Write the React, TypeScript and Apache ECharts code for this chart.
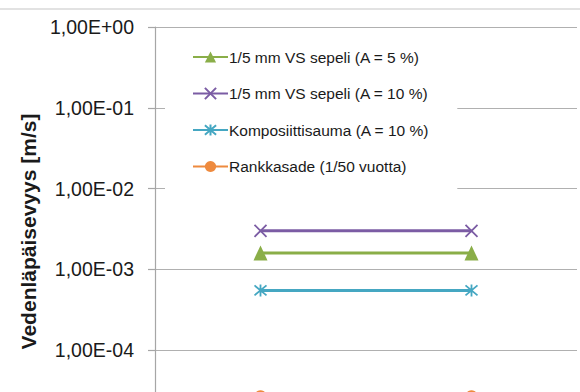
import React, { useEffect, useRef } from "react";
import * as echarts from "echarts";

const categories = ["1", "2"];
const seriesNames = [
  "1/5 mm VS sepeli (A = 5 %)",
  "1/5 mm VS sepeli (A = 10 %)",
  "Komposiittisauma (A = 10 %)",
  "Rankkasade (1/50 vuotta)",
];
const greenValues = [1.6e-3, 1.6e-3];
const purpleValues = [3.0e-3, 3.0e-3];
const cyanValues = [5.5e-4, 5.5e-4];
const orangeValues = [2.7e-5, 2.7e-5];
const yAxisName = "Vedenläpäisevyys [m/s]";

const colors = ["#8AAE48", "#7B5CA4", "#45A7C2", "#EE8A3E"];

const xPath = "path://M0,0L10,10M10,0L0,10";
const starPath = "path://M0,0L10,10M10,0L0,10M5,-1L5,11";

function fmt(v: number) {
  const e = Math.round(Math.log10(v));
  return "1,00E" + (e >= 0 ? "+" : "-") + String(Math.abs(e)).padStart(2, "0");
}

export default function App() {
  const ref = useRef<HTMLDivElement>(null);
  useEffect(() => {
    if (!ref.current) return;
    const chart = echarts.init(ref.current, undefined, { renderer: "svg" });
    const font = "Liberation Sans";
    const mk = (i: number, data: number[], symbol: string, size: any, stroke: boolean) => ({
      name: seriesNames[i],
      type: "line",
      data,
      symbol,
      symbolSize: size,
      showSymbol: true,
      lineStyle: { color: colors[i], width: 3 },
      itemStyle: stroke
        ? { color: colors[i], borderColor: colors[i], borderWidth: 1.8 }
        : { color: colors[i], borderWidth: 0 },
      emphasis: { disabled: true },
    });
    chart.setOption({
      animation: false,
      textStyle: { fontFamily: font },
      graphic: [
        {
          type: "line",
          shape: { x1: 0, y1: 9, x2: 580, y2: 9 },
          style: { stroke: "#d9d9d9", lineWidth: 1.5 },
        },
      ],
      legend: {
        orient: "vertical",
        left: 165,
        top: 34,
        padding: [15, 28, 15, 27],
        backgroundColor: "#ffffff",
        itemWidth: 35,
        itemHeight: 14,
        itemGap: 20.5,
        textStyle: { fontFamily: font, fontSize: 15.5, color: "#1a1a1a", padding: [0, 0, 0, -4] },
        data: seriesNames,
      },
      grid: { left: 155, top: 27, width: 422, height: 404 },
      xAxis: {
        type: "category",
        data: categories,
        boundaryGap: true,
        axisLabel: { show: false },
        axisTick: { show: false },
        axisLine: { lineStyle: { color: "#8c8c8c" } },
      },
      yAxis: {
        type: "log",
        logBase: 10,
        min: 1e-5,
        max: 1,
        name: yAxisName,
        nameLocation: "middle",
        nameRotate: 90,
        nameGap: 116,
        nameTextStyle: { fontFamily: font, fontSize: 21, fontWeight: "bold", color: "#1a1a1a", padding: [0, 5, 0, 0] },
        axisLine: { show: true, lineStyle: { color: "#a6a6a6", width: 1.2 } },
        axisTick: { show: true, length: 7, lineStyle: { color: "#a6a6a6", width: 1.2 } },
        axisLabel: {
          formatter: fmt,
          margin: 21,
          fontFamily: font,
          fontSize: 19.5,
          color: "#1a1a1a",
          showMinLabel: false,
        },
        splitLine: { show: true, lineStyle: { color: "#b0b0b0", width: 1.2 } },
      },
      series: [
        mk(0, greenValues, "triangle", [14, 15], false),
        mk(1, purpleValues, xPath, 12, true),
        mk(2, cyanValues, starPath, 12, true),
        mk(3, orangeValues, "circle", 12, false),
      ],
    });
    return () => chart.dispose();
  }, []);
  return (
    <div style={{ position: "absolute", left: 0, top: 0, width: 580, height: 392, overflow: "hidden" }}>
      <div ref={ref} style={{ width: 580, height: 470 }} />
    </div>
  );
}
